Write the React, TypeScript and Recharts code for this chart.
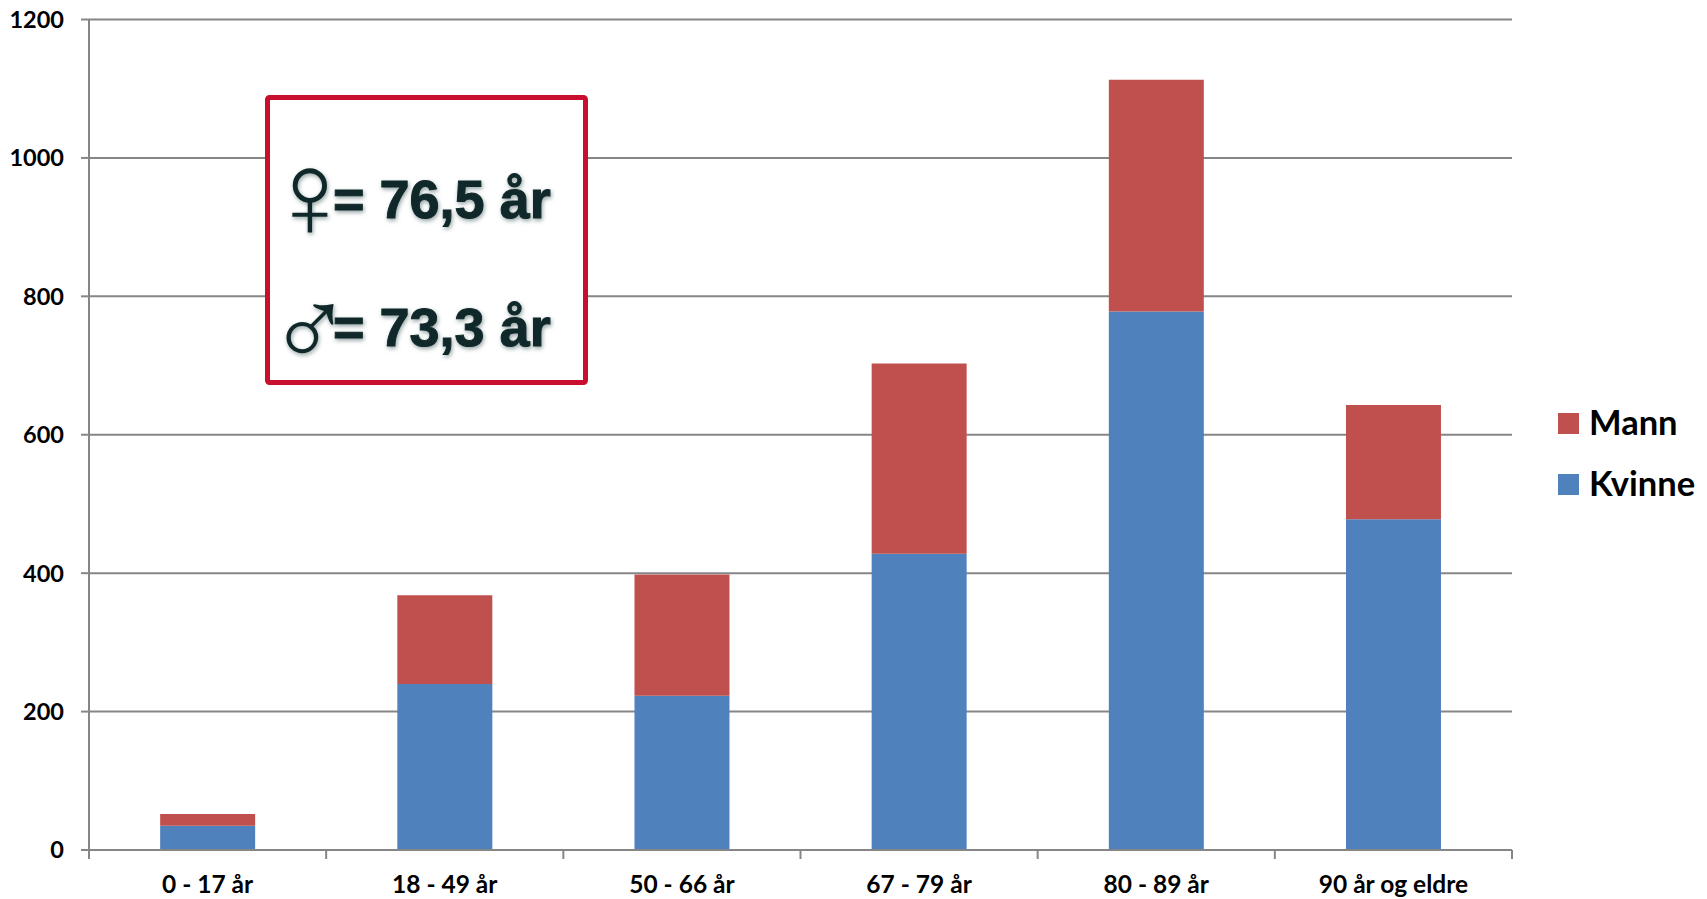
import { BarChart, Bar, XAxis, YAxis, CartesianGrid } from 'recharts';

const ageGroups = ['0 - 17 år', '18 - 49 år', '50 - 66 år', '67 - 79 år', '80 - 89 år', '90 år og eldre'];
const kvinne = [35, 240, 223, 428, 778, 478];
const mann = [17, 128, 175, 275, 335, 165];
const yTicks = [0, 200, 400, 600, 800, 1000, 1200];
const meanAges = [
  { symbol: '♀', text: '= 76,5 år' },
  { symbol: '♂', text: '= 73,3 år' },
];

const chartData = ageGroups.map((group, i) => ({ group, Kvinne: kvinne[i], Mann: mann[i] }));

const KVINNE_COLOR = '#4f81bd';
const MANN_COLOR = '#c0504d';
const legendItems = [
  { name: 'Mann', color: MANN_COLOR },
  { name: 'Kvinne', color: KVINNE_COLOR },
];

const AXIS_COLOR = '#868686';
const LABEL_FONT = 'Lato, sans-serif';
const PLOT_WIDTH = 1423;
const BAND = PLOT_WIDTH / ageGroups.length;
// The two glyphs differ in height and width in the font
const SYMBOL_BASELINES = [142, 272];
const SYMBOL_SIZES = [122, 112];

// Category label plus tick marks on the band edges rather than the band centre
function AgeTick({ x, y, payload, index }: any) {
  const left = x - BAND / 2;
  return (
    <g>
      <line x1={left} x2={left} y1={y} y2={y + 9} stroke={AXIS_COLOR} strokeWidth={2} />
      {index === ageGroups.length - 1 && (
        <line x1={left + BAND} x2={left + BAND} y1={y} y2={y + 9} stroke={AXIS_COLOR} strokeWidth={2} />
      )}
      <text x={x} y={y + 43} textAnchor="middle" fontFamily={LABEL_FONT} fontWeight={700} fontSize={24.5} fill="#000">
        {payload.value}
      </text>
    </g>
  );
}

function GenderLegend() {
  return (
    <div style={{ position: 'absolute', left: 1558, top: 393 }}>
      {legendItems.map((item) => (
        <div key={item.name} style={{ display: 'flex', alignItems: 'center', height: 61 }}>
          <span style={{ width: 21, height: 21, background: item.color, marginRight: 10 }} />
          <span style={{ fontFamily: LABEL_FONT, fontWeight: 700, fontSize: 34.5, color: '#000', position: 'relative', top: -2 }}>
            {item.name}
          </span>
        </div>
      ))}
    </div>
  );
}

function MeanAgeBox() {
  return (
    <svg width={323} height={290} style={{ position: 'absolute', left: 265, top: 95, overflow: 'visible' }}>
      <rect x={2.5} y={2.5} width={318} height={285} rx={2} fill="#fff" stroke="#c8102e" strokeWidth={5} />
      {meanAges.map((row, i) => (
        <g key={row.symbol} fill="#10282a" style={{ filter: 'drop-shadow(1px 2px 2px rgba(40,70,70,0.5))' }}>
          <text
            x={45}
            y={SYMBOL_BASELINES[i]}
            textAnchor="middle"
            fontFamily='"Liberation Sans", sans-serif'
            fontSize={SYMBOL_SIZES[i]}
          >
            {row.symbol}
          </text>
          <text
            x={68}
            y={123 + i * 128}
            fontFamily='"Liberation Sans", sans-serif'
            fontWeight={700}
            fontSize={54}
            stroke="#10282a"
            strokeWidth={1}
          >
            {row.text}
          </text>
        </g>
      ))}
    </svg>
  );
}

export default function App() {
  return (
    <div style={{ position: 'absolute', left: 0, top: 0, width: 1707, height: 899, background: '#fff', overflow: 'hidden' }}>
      <BarChart width={1707} height={899} data={chartData} margin={{ top: 19.5, right: 195, bottom: 0, left: 0 }} barCategoryGap="30%">
        <CartesianGrid horizontal vertical={false} stroke={AXIS_COLOR} strokeWidth={2} syncWithTicks />
        <XAxis
          dataKey="group"
          height={49}
          interval={0}
          axisLine={{ stroke: AXIS_COLOR, strokeWidth: 2 }}
          tickLine={false}
          tickSize={0}
          tickMargin={0}
          tick={AgeTick}
        />
        <YAxis
          width={89}
          domain={[0, 1200]}
          ticks={yTicks}
          interval={0}
          axisLine={{ stroke: AXIS_COLOR, strokeWidth: 2 }}
          tickLine={{ stroke: AXIS_COLOR, strokeWidth: 2 }}
          tickSize={8}
          tickMargin={17}
          tick={{ fontFamily: LABEL_FONT, fontWeight: 700, fontSize: 23.5, fill: '#000' }}
        />
        <Bar dataKey="Kvinne" stackId="age" fill={KVINNE_COLOR} isAnimationActive={false} />
        <Bar dataKey="Mann" stackId="age" fill={MANN_COLOR} isAnimationActive={false} />
      </BarChart>
      <GenderLegend />
      <MeanAgeBox />
    </div>
  );
}
